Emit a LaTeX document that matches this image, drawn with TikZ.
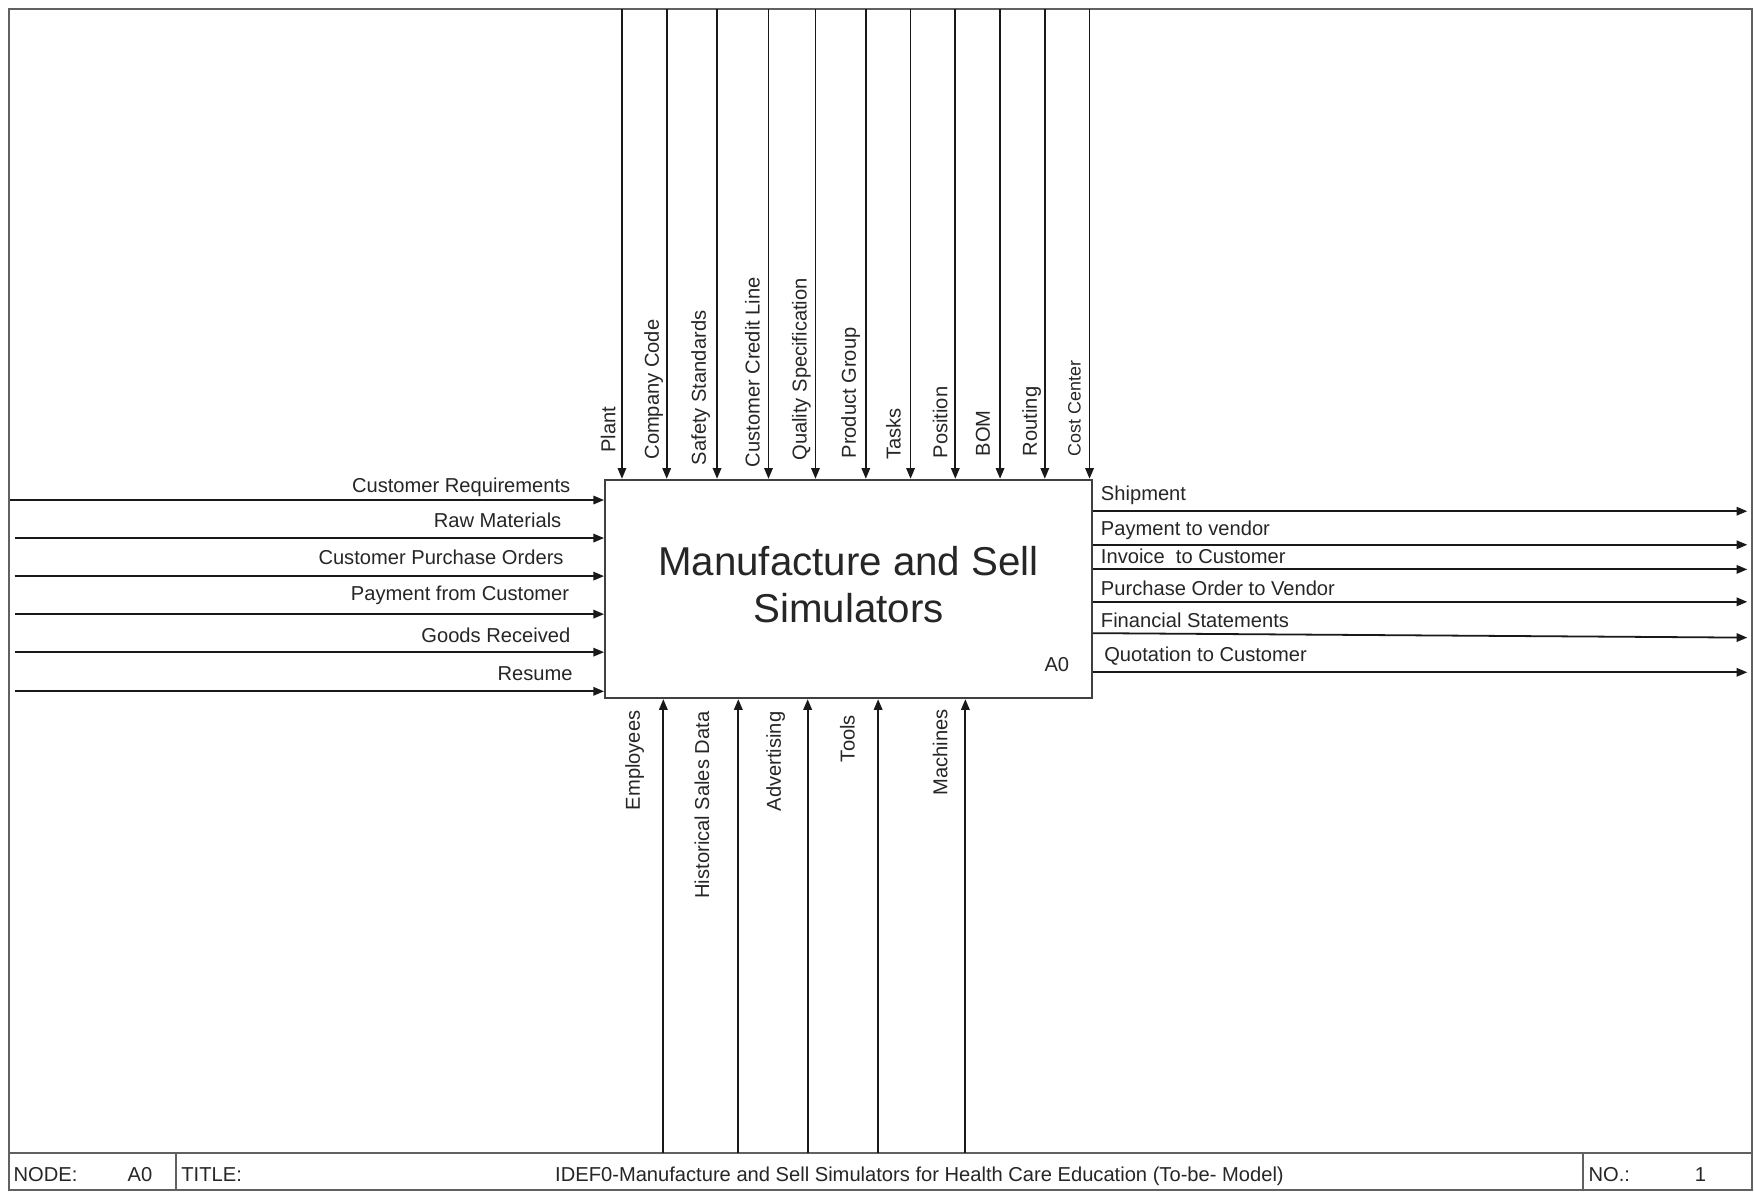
\documentclass[tikz,border=0pt]{standalone}
\usepackage{fontspec}
\setmainfont{Liberation Sans}
\usetikzlibrary{arrows.meta,calc}
\definecolor{ink}{gray}{0.1}
\definecolor{boxline}{gray}{0.25}
\definecolor{frameink}{gray}{0.38}
\definecolor{txt}{gray}{0.15}
\begin{document}
\begin{tikzpicture}[x=1pt,y=-1pt,
  frameline/.style={draw=frameink,line width=1.9pt},
  flow/.style={draw=ink,line width=1.6pt,-{Triangle[length=9.5pt,width=7.5pt]}},
  lbl/.style={inner sep=0pt,text=txt,font=\fontsize{18}{21}\selectfont},
  smalllbl/.style={lbl,font=\fontsize{16}{19}\selectfont},
  vlbl/.style={lbl,rotate=90},
  actbox/.style={draw=boxline,line width=2pt,fill=white,minimum width=435pt,minimum height=195pt,
    inner sep=0pt,align=center,text=txt,font=\fontsize{36}{43}\selectfont}
]
% page area
\useasboundingbox (0,0) rectangle (1568,1065);
\fill[white] (0,0) rectangle (1568,1065);

% drawing frame and title strip
\draw[frameline] (8,8) rectangle (1566,1064);
\draw[frameline] (8,1031) -- (1566,1031);
\draw[frameline] (157,1031) -- (157,1064);
\draw[frameline] (1415,1031) -- (1415,1064);
\node[lbl,anchor=base west] (fnode) at (12,1056) {NODE:};
\node[lbl,anchor=base west] (fnodeid) at (114,1056) {A0};
\node[lbl,anchor=base west] (ftitle) at (162,1056) {TITLE:};
\node[lbl,anchor=base] (ftitletext) at (822,1056) {IDEF0-Manufacture and Sell Simulators for Health Care Education (To-be- Model)};
\node[lbl,anchor=base west] (fno) at (1420,1056) {NO.:};
\node[lbl,anchor=base west] (fnoval) at (1515,1056) {1};

% the activity
\node[actbox] (box) at (758.5,526.5) {\raisebox{2pt}{\begin{tabular}{@{}c@{}}Manufacture and Sell\\[-1pt]Simulators\end{tabular}}};
\node[lbl,anchor=base east] (boxid) at ($(box.south east)+(-21,-25)$) {A0};

% controls (top)
\foreach \ax/\bx/\by/\txt [count=\i] in {
  556/550/405/Plant,
  596/589/411/Company Code,
  641/631/416/Safety Standards,
  687/679/418/Customer Credit Line,
  729/721/412/Quality Specification,
  774/765/410/Product Group,
  814/805/411/Tasks,
  854/847/410/Position,
  894/885/408/BOM,
  934/927/408/Routing}{
  \coordinate (ctl\i) at (\ax,8);
  \draw[flow] (ctl\i) -- (ctl\i |- box.north);
  \node[vlbl,anchor=base west] (ctllbl\i) at (\bx,\by) {\txt};
}
\coordinate (ctl11) at (974,8);
\draw[flow] (ctl11) -- (ctl11 |- box.north);
\node[smalllbl,rotate=90,anchor=base west] (ctllbl11) at (966,408) {Cost Center};

% mechanisms (bottom)
\foreach \ax/\bx/\by/\txt [count=\i] in {
  593/572/635/Employees,
  660/634/636/Historical Sales Data,
  722/698/636/Advertising,
  785/764/639/Tools,
  863/847/634/Machines}{
  \coordinate (mec\i) at (\ax,1031);
  \draw[flow] (mec\i) -- (mec\i |- box.south);
  \node[vlbl,anchor=base east] (meclbl\i) at (\bx,\by) {\txt};
}

% inputs (left)
\foreach \sx/\ay/\ly/\lx/\txt [count=\i] in {
  9/447/440/510/Customer Requirements,
  13/481/472/502/Raw Materials,
  13/515/505/504/Customer Purchase Orders,
  13/549/537/509/Payment from Customer,
  13/583/574/510/Goods Received,
  13/618/608/512/Resume}{
  \coordinate (inp\i) at (\sx,\ay);
  \draw[flow] (inp\i) -- (inp\i -| box.west);
  \node[lbl,anchor=base east] (inplbl\i) at (\lx,\ly) {\txt};
}

% outputs (right)
\foreach \ay/\ly/\lx/\txt [count=\i] in {
  457/447/984/Shipment,
  487/479/984/Payment to vendor,
  509/504/984/Invoice\ \ to Customer,
  538/532/984/Purchase Order to Vendor}{
  \coordinate (out\i) at (1562,\ay);
  \draw[flow] (out\i -| box.east) -- (out\i);
  \node[lbl,anchor=base west] (outlbl\i) at (\lx,\ly) {\txt};
}
\coordinate (out5) at (1562,570);
\draw[flow] ($(out5 -| box.east)+(0,-4)$) -- (out5);
\node[lbl,anchor=base west] (outlbl5) at (984,561) {Financial Statements};
\coordinate (out6) at (1562,601);
\draw[flow] (out6 -| box.east) -- (out6);
\node[lbl,anchor=base west] (outlbl6) at (987,591) {Quotation to Customer};
\end{tikzpicture}
\end{document}
